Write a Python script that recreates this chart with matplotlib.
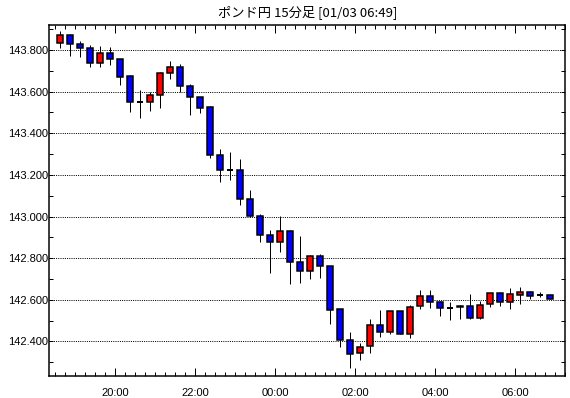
import numpy as np
import pandas as pd
import matplotlib
matplotlib.use("Agg")
import matplotlib.pyplot as plt
import matplotlib.dates as mdates
from matplotlib.patches import Rectangle

# 15分足 ポンド円 (01/02 18:30 - 01/03 06:45)
times = pd.date_range("2025-01-02 18:30", periods=50, freq="15min")

opens = [143.832, 143.872, 143.829, 143.808, 143.736, 143.784, 143.755, 143.675, 143.552, 143.549,
         143.582, 143.688, 143.717, 143.627, 143.574, 143.526, 143.294, 143.226, 143.223, 143.082,
         143.001, 142.909, 142.876, 142.930, 142.780, 142.736, 142.808, 142.760, 142.554, 142.405,
         142.342, 142.376, 142.477, 142.443, 142.546, 142.434, 142.568, 142.616, 142.591, 142.562,
         142.569, 142.568, 142.514, 142.578, 142.631, 142.591, 142.624, 142.635, 142.623, 142.623]
highs = [143.891, 143.877, 143.845, 143.824, 143.819, 143.814, 143.757, 143.680, 143.608, 143.600,
         143.696, 143.747, 143.733, 143.637, 143.574, 143.532, 143.324, 143.310, 143.276, 143.127,
         143.012, 142.935, 143.001, 142.935, 142.906, 142.813, 142.818, 142.760, 142.554, 142.445,
         142.394, 142.506, 142.551, 142.546, 142.546, 142.575, 142.647, 142.647, 142.596, 142.591,
         142.573, 142.627, 142.592, 142.631, 142.637, 142.656, 142.661, 142.643, 142.637, 142.627]
lows = [143.811, 143.770, 143.768, 143.720, 143.720, 143.728, 143.632, 143.503, 143.475, 143.507,
        143.523, 143.659, 143.600, 143.488, 143.496, 143.283, 143.167, 143.175, 143.055, 142.996,
        142.879, 142.727, 142.831, 142.674, 142.679, 142.698, 142.703, 142.485, 142.374, 142.270,
        142.312, 142.342, 142.422, 142.437, 142.434, 142.418, 142.557, 142.562, 142.523, 142.504,
        142.509, 142.507, 142.507, 142.567, 142.571, 142.557, 142.581, 142.602, 142.611, 142.602]
closes = [143.872, 143.827, 143.808, 143.736, 143.784, 143.755, 143.672, 143.552, 143.552, 143.582,
          143.688, 143.717, 143.627, 143.576, 143.523, 143.297, 143.226, 143.226, 143.082, 143.002,
          142.909, 142.876, 142.930, 142.780, 142.736, 142.808, 142.760, 142.552, 142.405, 142.341,
          142.371, 142.477, 142.443, 142.546, 142.434, 142.565, 142.616, 142.591, 142.562, 142.562,
          142.564, 142.514, 142.575, 142.631, 142.591, 142.626, 142.635, 142.619, 142.623, 142.602]

TITLE = "ポンド円 15分足 [01/03 06:49]"
UP = "#ff0000"
DOWN = "#0000ff"
PX = 0.72  # 1 pixel in points at dpi 100

plt.rcParams["font.family"] = ["Liberation Sans", "DejaVu Sans"]

fig = plt.figure(figsize=(5.70, 3.98), dpi=100)
ax = fig.add_axes([0.0865, 0.056, 0.9053, 0.882])

slot = 15 / 1440
centers = mdates.date2num(times) + slot / 2
w = slot * 0.6

for x, o, h, l, c in zip(centers, opens, highs, lows, closes):
    ax.vlines(x, l, h, color="black", lw=PX, zorder=2)
    if c == o:
        ax.hlines(o, x - w / 2, x + w / 2, color="black", lw=2 * PX, zorder=3)
        continue
    col = UP if c > o else DOWN
    ax.add_patch(Rectangle((x - w / 2, min(o, c)), w, abs(c - o),
                           facecolor=col, edgecolor="black", lw=1.5 * PX, zorder=3))

start = mdates.date2num(times[0])
ax.set_xlim(start - 9 / 1440, start + 765 / 1440)
ax.set_ylim(142.235, 143.922)

ax.xaxis.set_major_locator(mdates.HourLocator(byhour=range(0, 24, 2)))
ax.xaxis.set_minor_locator(mdates.MinuteLocator(byminute=[0, 15, 30, 45]))
ax.xaxis.set_major_formatter(mdates.DateFormatter("%H:%M"))
ax.yaxis.set_major_locator(plt.MultipleLocator(0.2))
ax.yaxis.set_minor_locator(plt.MultipleLocator(0.1))
ax.yaxis.set_major_formatter(plt.FormatStrFormatter("%.3f"))

ax.tick_params(axis="x", which="major", direction="in", length=6, width=PX,
               top=True, bottom=True, labelsize=8, pad=9)
ax.tick_params(axis="x", which="minor", direction="in", length=3, width=PX,
               top=True, bottom=True)
ax.tick_params(axis="y", which="both", direction="in", length=3, width=PX,
               left=True, right=True, labelsize=8, pad=1)

# 点線のグリッド
ax.grid(True, axis="y", which="major", color="black", lw=PX,
        linestyle=(0, (1, 1.2)), zorder=1)
ax.set_axisbelow(True)
for s in ax.spines.values():
    s.set_linewidth(1.5 * PX)

ax.set_title(TITLE, fontsize=9.5, pad=6, family=["Noto Sans CJK JP", "DejaVu Sans"])

fig.savefig("out.png", dpi=100)
